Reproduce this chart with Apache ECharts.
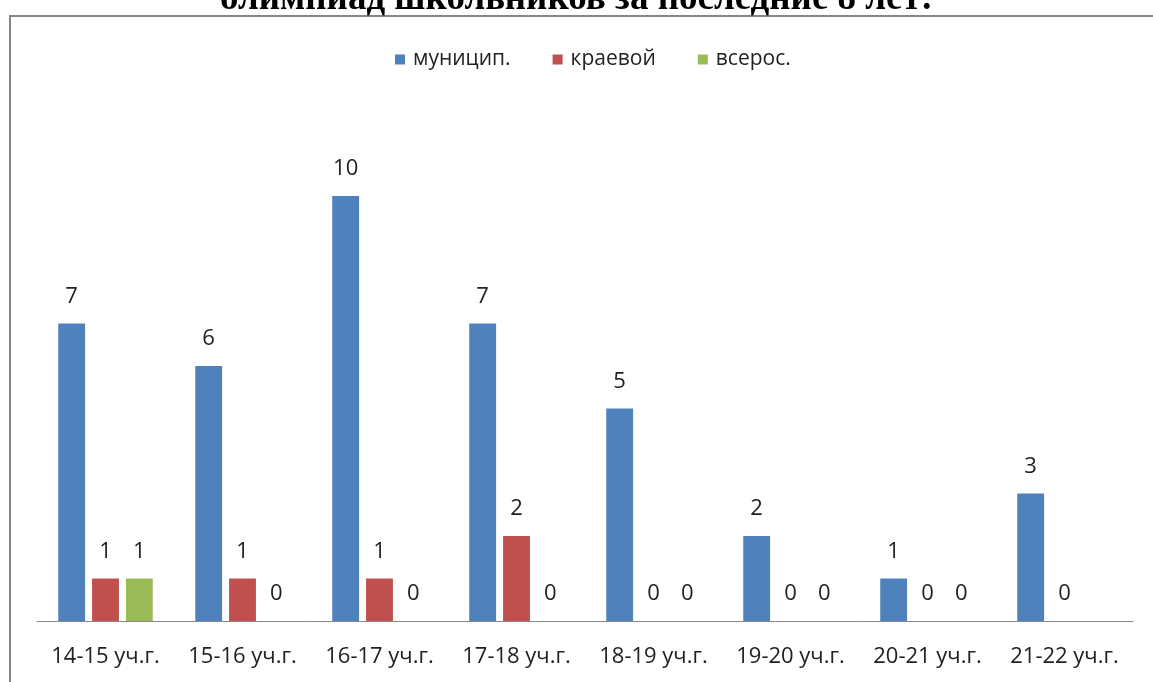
<!DOCTYPE html>
<html>
<head>
<meta charset="utf-8">
<script src="https://cdn.jsdelivr.net/npm/echarts@6/dist/echarts.min.js"></script>
<style>
  html, body { margin: 0; padding: 0; background: #fff; }
  #chart { width: 1153px; height: 682px; }
</style>
</head>
<body>
<div id="chart"></div>
<script>
// данные
var categories = ['14-15 уч.г.', '15-16 уч.г.', '16-17 уч.г.', '17-18 уч.г.', '18-19 уч.г.', '19-20 уч.г.', '20-21 уч.г.', '21-22 уч.г.']
var municip = [7, 6, 10, 7, 5, 2, 1, 3]
var kraevoi = [1, 1, 1, 2, 0, 0, 0, 0]
var vseros = [1, 0, 0, 0, 0, 0, 0, null]

var labelFont = '"Open Sans", sans-serif'
var chart = echarts.init(document.getElementById('chart'))

function makeSeries(name, data, color) {
  return {
    name: name,
    type: 'bar',
    data: data,
    barGap: '26%',
    barCategoryGap: '31%',
    itemStyle: { color: color },
    label: {
      show: true,
      position: 'top',
      distance: 16,
      color: '#222',
      fontSize: 22,
      fontFamily: labelFont
    }
  }
}

chart.setOption({
  animation: false,
  title: {
    text: 'олимпиад школьников за последние 8 лет:',
    left: 'center',
    top: -24,
    textStyle: {
      fontFamily: '"Liberation Serif", serif',
      fontWeight: 'bold',
      fontSize: 37,
      color: '#000'
    }
  },
  graphic: [{
    type: 'rect',
    shape: { x: 10, y: 16, width: 1200, height: 700 },
    style: { fill: null, stroke: '#868686', lineWidth: 2 },
    silent: true
  }],
  legend: {
    top: 44,
    left: 390,
    itemWidth: 10,
    itemHeight: 10,
    itemGap: 42,
    icon: 'rect',
    textStyle: { fontSize: 21, color: '#222', fontFamily: labelFont, padding: [0, 0, 0, 3] }
  },
  grid: { left: 37, right: 20, top: 111, bottom: 61 },
  xAxis: {
    type: 'category',
    data: categories,
    axisLine: { lineStyle: { color: '#888', width: 1 } },
    axisTick: { show: false },
    axisLabel: { fontSize: 22, color: '#222', fontFamily: labelFont, margin: 25, interval: 0 }
  },
  yAxis: {
    type: 'value',
    min: 0,
    max: 12,
    show: false
  },
  series: [
    makeSeries('муницип.', municip, '#4F81BD'),
    makeSeries('краевой', kraevoi, '#C0504D'),
    makeSeries('всерос.', vseros, '#9BBB59')
  ]
})
</script>
</body>
</html>
